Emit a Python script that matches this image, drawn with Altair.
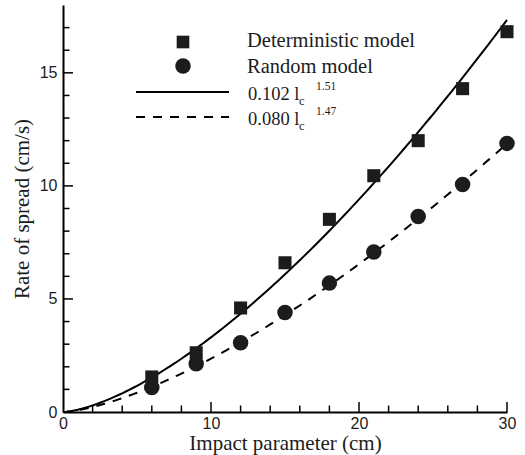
import altair as alt
import pandas as pd

# Measured rate of spread versus impact parameter l_c
lc = [6, 9, 12, 15, 18, 21, 24, 27, 30]
deterministic = [1.55, 2.62, 4.60, 6.60, 8.52, 10.45, 12.00, 14.30, 16.82]
random_model = [1.08, 2.13, 3.06, 4.40, 5.70, 7.08, 8.65, 10.06, 11.88]

# Power-law fits a * l_c^b
fit_coef = [0.102, 0.080]
fit_exp = [1.51, 1.47]
fit_coef_labels = ["0.102 l", "0.080 l"]
fit_exp_labels = ["1.51", "1.47"]
series_labels = ["Deterministic model", "Random model"]

x_major = [0, 10, 20, 30]
y_major = [0, 5, 10, 15]
x_ticks_major = [10, 20, 30]
x_ticks_minor = [2, 4, 6, 8, 12, 14, 16, 18, 22, 24, 26, 28]
y_ticks_major = [5, 10, 15]
y_ticks_minor = [1, 2, 3, 4, 6, 7, 8, 9, 11, 12, 13, 14, 16, 17]

W, H = 444, 407
INK = "#1c1c1c"
SERIF = "Liberation Serif"
SANS = "Liberation Sans"
DASH = [9, 8]

points = pd.DataFrame({
    "lc": lc + lc,
    "rate": deterministic + random_model,
    "model": [series_labels[0]] * len(lc) + [series_labels[1]] * len(lc),
})

xs = alt.Scale(domain=[0, 30], nice=False)
ys = alt.Scale(domain=[0, 18], nice=False)

x_axis = alt.Axis(
    values=x_major, ticks=False, grid=False, domainColor="black", domainWidth=2,
    labelFont=SANS, labelFontSize=16, labelColor=INK, labelPadding=3, labelFlush=False,
    title="Impact parameter (cm)", titleFont=SERIF, titleFontSize=21,
    titleFontWeight="normal", titleColor=INK, titlePadding=1,
)
y_axis = alt.Axis(
    values=y_major, ticks=False, grid=False, domainColor="black", domainWidth=2,
    labelFont=SANS, labelFontSize=16, labelColor=INK, labelPadding=6, labelFlush=False,
    title="Rate of spread (cm/s)", titleFont=SERIF, titleFontSize=21,
    titleFontWeight="normal", titleColor=INK, titlePadding=7,
)


def X(field):
    return alt.X(f"{field}:Q", scale=xs, axis=x_axis)


def Y(field):
    return alt.Y(f"{field}:Q", scale=ys, axis=y_axis)


squares = alt.Chart(points).transform_filter(
    alt.datum.model == series_labels[0]
).mark_point(shape="square", filled=True, size=170, color=INK, opacity=1).encode(
    x=X("lc"), y=Y("rate")
)
circles = alt.Chart(points).transform_filter(
    alt.datum.model == series_labels[1]
).mark_circle(size=240, color=INK, opacity=1).encode(x=X("lc"), y=Y("rate"))

grid_x = alt.sequence(0, 30.001, 0.25, as_="lc")
fit_det = alt.Chart(grid_x).transform_calculate(
    fit=f"{fit_coef[0]} * pow(datum.lc, {fit_exp[0]})"
).mark_line(color="black", strokeWidth=2).encode(x=X("lc"), y=Y("fit"))
fit_rnd = alt.Chart(grid_x).transform_calculate(
    fit=f"{fit_coef[1]} * pow(datum.lc, {fit_exp[1]})"
).mark_line(color="black", strokeWidth=2, strokeDash=DASH).encode(x=X("lc"), y=Y("fit"))


# Inward-pointing tick marks
def x_ticks(values, length):
    return alt.Chart(pd.DataFrame({"v": values})).mark_rule(
        color="black", strokeWidth=1.5
    ).encode(x=X("v"), y=alt.value(H), y2=alt.value(H - length))


def y_ticks(values, length):
    return alt.Chart(pd.DataFrame({"v": values})).mark_rule(
        color="black", strokeWidth=1.5
    ).encode(y=Y("v"), x=alt.value(0), x2=alt.value(length))


ticks = [
    x_ticks(x_ticks_major, 10), x_ticks(x_ticks_minor, 6.5),
    y_ticks(y_ticks_major, 10), y_ticks(y_ticks_minor, 6.5),
]

# Legend block
one = pd.DataFrame({"k": [0]})


def label(text, x, y, size=20.5):
    return alt.Chart(one).mark_text(
        font=SERIF, fontSize=size, color=INK, align="left", baseline="alphabetic"
    ).encode(x=alt.value(x), y=alt.value(y), text=alt.value(text))


legend = [
    alt.Chart(one).mark_point(shape="square", filled=True, size=160, color=INK, opacity=1)
    .encode(x=alt.value(120), y=alt.value(37)),
    alt.Chart(one).mark_circle(size=240, color=INK, opacity=1)
    .encode(x=alt.value(120), y=alt.value(61)),
    alt.Chart(one).mark_rule(color="black", strokeWidth=2)
    .encode(x=alt.value(73), x2=alt.value(166), y=alt.value(87)),
    alt.Chart(one).mark_rule(color="black", strokeWidth=2, strokeDash=DASH)
    .encode(x=alt.value(73), x2=alt.value(166), y=alt.value(112)),
    label(series_labels[0], 184, 42),
    label(series_labels[1], 184, 68),
]
for i, (coef, ex) in enumerate(zip(fit_coef_labels, fit_exp_labels)):
    base = 95 + 25 * i
    legend.append(label(coef, 185, base, size=18.5))
    legend.append(label("c", 236, base + 5, size=12.5))
    legend.append(label(ex, 253, base - 10, size=11.5))

chart = alt.layer(
    *ticks, fit_det, fit_rnd, squares, circles, *legend
).properties(
    width=W, height=H,
    autosize=alt.AutoSizeParams(type="none"),
    padding={"left": 63, "top": 5, "right": 18, "bottom": 43},
    background="white",
).configure_view(stroke=None)

chart.save("out.html", embed_options={"renderer": "svg", "actions": False})
